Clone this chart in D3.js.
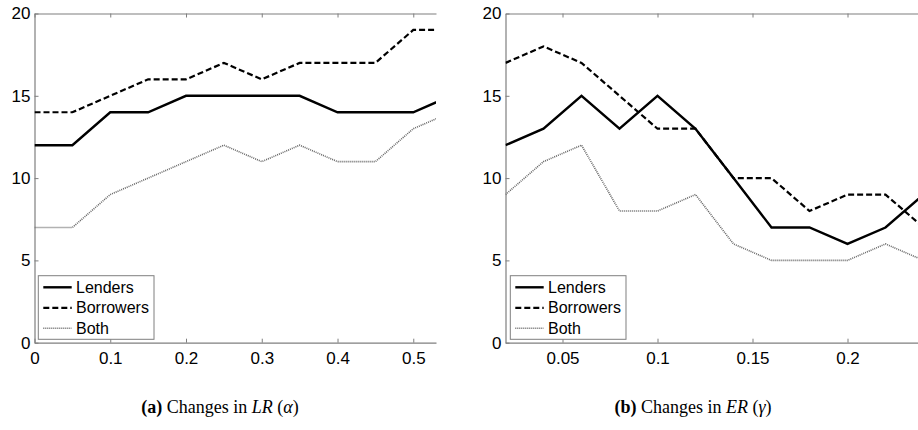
<!DOCTYPE html>
<html>
<head>
<meta charset="utf-8">
<script src="https://cdn.jsdelivr.net/npm/d3@7"></script>
<style>
  body { margin: 0; background: #fff; }
  svg { display: block; }
</style>
</head>
<body>
<div id="chart"></div>
<script>
// panel (a): changes in LR (alpha)
const lrAlpha     = [0, 0.05, 0.1, 0.15, 0.2, 0.25, 0.3, 0.35, 0.4, 0.45, 0.5, 0.55]
const lrLenders   = [12, 12, 14, 14, 15, 15, 15, 15, 14, 14, 14, 15]
const lrBorrowers = [14, 14, 15, 16, 16, 17, 16, 17, 17, 17, 19, 19]
const lrBoth      = [7, 7, 9, 10, 11, 12, 11, 12, 11, 11, 13, 14]
const lrTicks     = [0, 0.1, 0.2, 0.3, 0.4, 0.5]

// panel (b): changes in ER (gamma)
const erGamma     = [0.02, 0.04, 0.06, 0.08, 0.1, 0.12, 0.14, 0.16, 0.18, 0.2, 0.22, 0.24]
const erLenders   = [12, 13, 15, 13, 15, 13, 10, 7, 7, 6, 7, 9]
const erBorrowers = [17, 18, 17, 15, 13, 13, 10, 10, 8, 9, 9, 7]
const erBoth      = [9, 11, 12, 8, 8, 9, 6, 5, 5, 5, 6, 5]
const erTicks     = [0.05, 0.1, 0.15, 0.2]

const yTicks = [0, 5, 10, 15, 20]
const seriesNames = ['Lenders', 'Borrowers', 'Both']

const width = 918, height = 430
const axisColor = '#7f7f7f'
const styles = {
  Lenders:   {stroke: '#000', width: 2.4, dash: null},
  Borrowers: {stroke: '#000', width: 2.2, dash: '6,3'},
  Both:      {stroke: '#666', width: 1.6, dash: '1,1'}
}

const svg = d3.select('#chart').append('svg')
  .attr('width', width)
  .attr('height', height)

function drawPanel(id, opts){
  const x = d3.scaleLinear().domain(opts.xDomain).range(opts.xRange)
  const y = d3.scaleLinear().domain([0, 20]).range([342.7, 13.5])
  const g = svg.append('g')

  g.append('clipPath').attr('id', 'clip-' + id)
    .append('rect')
    .attr('x', opts.xRange[0]).attr('y', 13.5)
    .attr('width', opts.xRange[1] - opts.xRange[0])
    .attr('height', 342.7 - 13.5)

  // axes: bottom, top, left (ticks inside)
  const bottom = g.append('g').attr('transform', `translate(0,${y(0)})`)
    .call(d3.axisBottom(x).tickValues(opts.ticks).tickSizeInner(-4).tickSizeOuter(0)
      .tickPadding(9).tickFormat(d => String(d)))
  const top = g.append('g').attr('transform', `translate(0,${y(20)})`)
    .call(d3.axisTop(x).tickValues(opts.ticks).tickSizeInner(-4).tickSizeOuter(0)
      .tickFormat(''))
  const left = g.append('g').attr('transform', `translate(${opts.xRange[0]},0)`)
    .call(d3.axisLeft(y).tickValues(yTicks).tickSizeInner(-4).tickSizeOuter(0)
      .tickPadding(4))

  ;[bottom, top, left].forEach(a => {
    a.select('.domain').attr('stroke', axisColor).attr('stroke-width', 1.2)
    a.selectAll('.tick line').attr('stroke', axisColor).attr('stroke-width', 1)
    a.selectAll('.tick text')
      .attr('fill', '#000')
      .attr('font-family', 'Liberation Sans, Arial, sans-serif')
      .attr('font-size', '17px')
  })
  bottom.selectAll('.tick text').attr('dy', '0.71em')

  // lines
  const line = d3.line().x((d, i) => x(opts.xs[i])).y(d => y(d))
  const lines = g.append('g').attr('clip-path', `url(#clip-${id})`)
  seriesNames.forEach((name, k) => {
    const s = styles[name]
    lines.append('path')
      .datum(opts.series[k])
      .attr('d', line)
      .attr('fill', 'none')
      .attr('stroke', s.stroke)
      .attr('stroke-width', s.width)
      .attr('stroke-dasharray', s.dash)
      .attr('stroke-linejoin', 'miter')
  })

  // legend
  const lg = g.append('g').attr('transform', `translate(${opts.legendX},275.7)`)
  lg.append('rect')
    .attr('width', 115.7).attr('height', 63.6)
    .attr('fill', '#fff').attr('stroke', axisColor).attr('stroke-width', 1)
  seriesNames.forEach((name, k) => {
    const s = styles[name]
    const ry = 11.6 + k * 20.5
    lg.append('line')
      .attr('x1', 5).attr('x2', 33.4).attr('y1', ry).attr('y2', ry)
      .attr('stroke', s.stroke).attr('stroke-width', s.width)
      .attr('stroke-dasharray', s.dash)
    lg.append('text')
      .attr('x', 37.7).attr('y', ry).attr('dy', '0.35em')
      .attr('font-family', 'Liberation Sans, Arial, sans-serif')
      .attr('font-size', '16px')
      .text(name)
  })

  // caption
  const cap = svg.append('text')
    .attr('x', opts.capX).attr('y', 413)
    .attr('text-anchor', 'middle')
    .attr('font-family', 'Liberation Serif, DejaVu Serif, serif')
    .attr('font-size', '18px')
  cap.append('tspan').attr('font-weight', 'bold').text(opts.caption[0])
  cap.append('tspan').text(' Changes in ')
  cap.append('tspan').attr('font-style', 'italic').text(opts.caption[1])
  cap.append('tspan').text(' (')
  cap.append('tspan').attr('font-style', 'italic').text(opts.caption[2])
  cap.append('tspan').text(')')
}

drawPanel('a', {
  xDomain: [0, 0.53], xRange: [34.5, 436],
  xs: lrAlpha, series: [lrLenders, lrBorrowers, lrBoth],
  ticks: lrTicks, legendX: 38.3, capX: 220,
  caption: ['(a)', 'LR', 'α']
})

drawPanel('b', {
  xDomain: [0.02, 0.24], xRange: [505.5, 923.5],
  xs: erGamma, series: [erLenders, erBorrowers, erBoth],
  ticks: erTicks, legendX: 510.3, capX: 693,
  caption: ['(b)', 'ER', 'γ']
})
</script>
</body>
</html>
